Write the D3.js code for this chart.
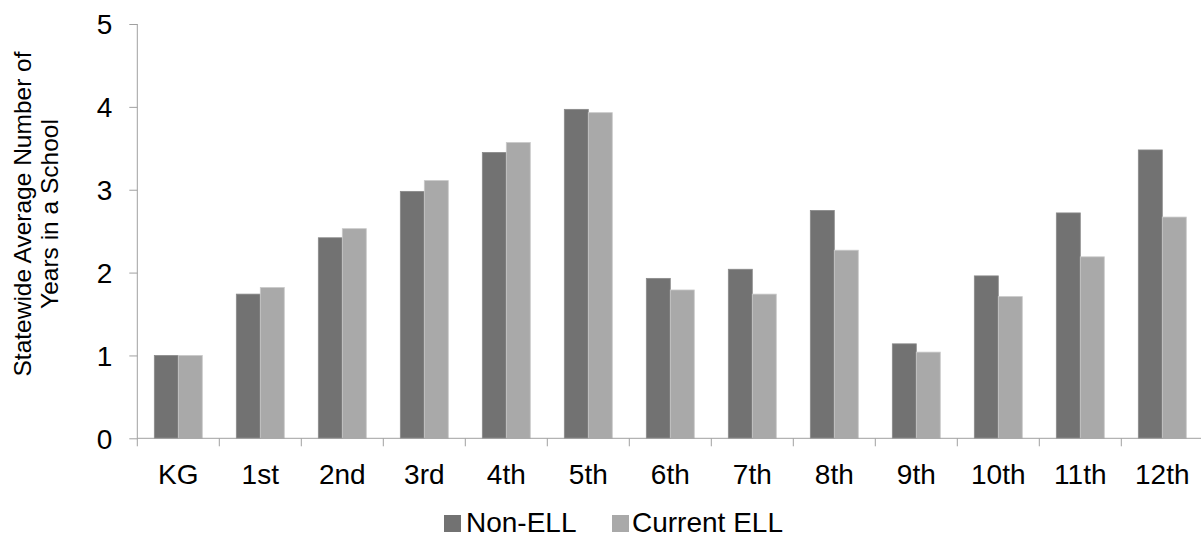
<!DOCTYPE html>
<html>
<head>
<meta charset="utf-8">
<script src="https://cdn.jsdelivr.net/npm/d3@7"></script>
<style>
  html, body { margin: 0; padding: 0; background: #fff; }
  svg { display: block; }
  text { font-family: "Liberation Sans", Arial, sans-serif; fill: #000; }
</style>
</head>
<body>
<svg id="chart" width="1201" height="544"></svg>
<script>
const categories = ["KG", "1st", "2nd", "3rd", "4th", "5th", "6th", "7th", "8th", "9th", "10th", "11th", "12th"];
const seriesNames = ["Non-ELL", "Current ELL"];
const nonEll = [1.0, 1.74, 2.42, 2.98, 3.45, 3.97, 1.93, 2.04, 2.75, 1.14, 1.96, 2.72, 3.48];
const currentEll = [1.0, 1.82, 2.53, 3.11, 3.57, 3.93, 1.79, 1.74, 2.27, 1.04, 1.71, 2.19, 2.67];
const yTicks = [0, 1, 2, 3, 4, 5];
const yTitleLines = ["Statewide Average Number of", "Years in a School"];

const colors = { "Non-ELL": "#727272", "Current ELL": "#a9a9a9" };
const strokes = { "Non-ELL": "#8a8a8a", "Current ELL": "#c9c9c9" };

const svg = d3.select("#chart");
const plotLeft = 137.3, plotBottom = 438.3, plotTop = 24;
const step = 82;
const x0 = d3.scaleBand().domain(categories).range([plotLeft, plotLeft + step * categories.length]).padding(0);
const x1 = d3.scaleBand().domain(seriesNames).range([0, x0.bandwidth()]).paddingInner(0).paddingOuter(0.71);
const y = d3.scaleLinear().domain([0, 5]).range([plotBottom, plotTop]);

const data = categories.map((c, i) => ({ cat: c, vals: [
  { s: "Non-ELL", v: nonEll[i] },
  { s: "Current ELL", v: currentEll[i] }
]}));

// bars
const g = svg.append("g");
g.selectAll("g.grp").data(data).join("g")
  .attr("class", "grp")
  .attr("transform", d => `translate(${x0(d.cat)},0)`)
  .selectAll("rect").data(d => d.vals).join("rect")
  .attr("x", d => x1(d.s))
  .attr("y", d => y(d.v))
  .attr("width", x1.bandwidth())
  .attr("height", d => plotBottom - y(d.v))
  .attr("fill", d => colors[d.s])
  .attr("stroke", d => strokes[d.s])
  .attr("stroke-width", 0.8);

// y axis
const yAxis = d3.axisLeft(y).tickValues(yTicks).tickSize(8).tickPadding(17).tickFormat(d3.format("d"));
const ya = svg.append("g").attr("transform", `translate(${plotLeft},0)`).call(yAxis);
ya.select(".domain").attr("stroke", "#a0a0a0").attr("d", `M0,${plotTop}V${plotBottom}`);
ya.selectAll(".tick line").attr("stroke", "#a0a0a0");
ya.selectAll(".tick text").attr("font-size", 28).attr("font-family", "Liberation Sans, Arial, sans-serif").attr("fill", "#000").attr("dy", "0.35em");

// x axis
const xa = svg.append("g").attr("transform", `translate(0,${plotBottom})`);
xa.append("line").attr("x1", plotLeft).attr("x2", 1201).attr("y1", 0).attr("y2", 0).attr("stroke", "#a0a0a0");
const bounds = categories.map(c => x0(c));
xa.selectAll("line.tk").data(bounds).join("line").attr("class", "tk")
  .attr("x1", d => d).attr("x2", d => d).attr("y1", 0).attr("y2", 8).attr("stroke", "#a0a0a0");
xa.selectAll("text").data(categories).join("text")
  .attr("x", d => x0(d) + x0.bandwidth() / 2)
  .attr("y", 46)
  .attr("text-anchor", "middle")
  .attr("font-size", 28)
  .text(d => d);

// y title
const yt = svg.append("text")
  .attr("transform", "translate(0,214) rotate(-90)")
  .attr("text-anchor", "middle")
  .attr("font-size", 24.5);
yTitleLines.forEach((t, i) => {
  yt.append("tspan").attr("x", 0).attr("y", 31 + i * 27).text(t);
});

// legend
const legendItems = [
  { s: "Non-ELL", rx: 444, tx: 466 },
  { s: "Current ELL", rx: 612, tx: 632 }
];
const lg = svg.append("g");
legendItems.forEach(it => {
  lg.append("rect").attr("x", it.rx).attr("y", 515).attr("width", 17).attr("height", 17).attr("fill", colors[it.s]);
  lg.append("text").attr("x", it.tx).attr("y", 532).attr("font-size", 28).text(it.s);
});
</script>
</body>
</html>
